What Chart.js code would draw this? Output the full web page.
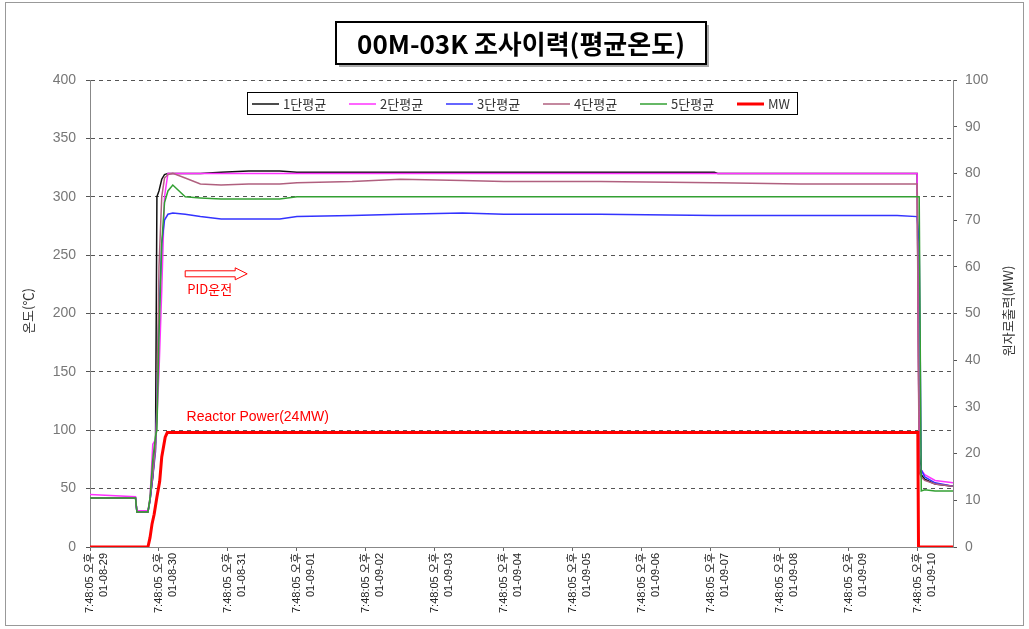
<!DOCTYPE html>
<html>
<head>
<meta charset="utf-8">
<script src="https://cdn.jsdelivr.net/npm/chart.js@4"></script>
<style>
  body { margin: 0; background: #fff; }
</style>
</head>
<body>
<canvas id="chart" width="1029" height="629"></canvas>
<script>
// x axis: days since 01-08-29 7:48:05 PM
const dayLabels = ['01-08-29', '01-08-30', '01-08-31', '01-09-01', '01-09-02', '01-09-03', '01-09-04',
                   '01-09-05', '01-09-06', '01-09-07', '01-09-08', '01-09-09', '01-09-10'];
const timeLabel = '7:48:05 오후';
const seriesNames = ['1단평균', '2단평균', '3단평균', '4단평균', '5단평균', 'MW'];

// temperature samples (days)
const tempTime = [0, 0.66, 0.68, 0.84, 0.87, 0.91, 0.95, 0.97, 1.0, 1.04, 1.08, 1.13, 1.2, 1.38, 1.6, 1.9,
                  2.3, 2.75, 3.0, 3.8, 4.5, 5.4, 6.0, 7.4, 9.05, 9.1, 10.3, 11.7, 11.99, 12.02, 12.05, 12.1, 12.25, 12.51];
const stage1 = [42, 42, 30, 30, 40, 60, 90, 300, 305, 315, 319, 320, 320, 320, 320, 321,
                322, 322, 321, 321, 321, 321, 321, 321, 321, 320, 320, 320, 320, 80, 62, 58, 54, 52];
const stage2 = [45, 43, 31, 31, 42, 88, 92, 110, 150, 220, 300, 320, 320, 320, 320, 320,
                320, 320, 320, 320, 320, 320, 320, 320, 320, 320, 320, 320, 320, 72, 66, 62, 57, 55];
const stage3 = [42, 42, 30, 30, 40, 60, 82, 125, 200, 260, 280, 285, 286, 285, 283, 281,
                281, 281, 283, 284, 285, 286, 285, 285, 284, 284, 284, 284, 283, 260, 66, 60, 55, 52];
const stage4 = [42, 42, 30, 30, 41, 62, 85, 120, 240, 300, 316, 319, 320, 316, 311, 310,
                311, 311, 312, 313, 315, 314, 313, 313, 312, 312, 311, 311, 311, 64, 60, 57, 54, 52];
const stage5 = [42, 42, 30, 30, 42, 75, 95, 100, 180, 260, 295, 305, 310, 300, 299, 298,
                298, 298, 300, 300, 300, 300, 300, 300, 300, 300, 300, 300, 300, 300, 48, 49, 48, 48];

// reactor power
const mwTime = [0, 0.84, 0.87, 0.9, 0.93, 0.97, 1.01, 1.04, 1.09, 1.12, 6.0, 12.0, 12.01, 12.51];
const mwValues = [0, 0, 2, 5, 7, 10.7, 14, 19.3, 23.5, 24.5, 24.5, 24.5, 0, 0];

const tempTicks = [0, 50, 100, 150, 200, 250, 300, 350, 400];
const mwTicks = [0, 10, 20, 30, 40, 50, 60, 70, 80, 90, 100];

const colors = ['#111111', '#ff33ff', '#3333ff', '#b0607f', '#33a033', '#ff0000'];
const FONT = "'Liberation Sans', 'Noto Sans CJK KR', sans-serif";
const KFONT = "'Noto Sans CJK KR', sans-serif";

function pts(xs, ys) {
    return xs.map((x, i) => ({ x: x, y: ys[i] }));
}

const tempSeries = [stage1, stage2, stage3, stage4, stage5];
const datasets = tempSeries.map((s, i) => ({
    label: seriesNames[i],
    data: pts(tempTime, s),
    borderColor: colors[i],
    borderWidth: 1.5,
    yAxisID: 'y',
    order: 6 - i
}));
datasets.push({
    label: seriesNames[5],
    data: pts(mwTime, mwValues),
    borderColor: colors[5],
    borderWidth: 3,
    yAxisID: 'y2',
    order: 0
});

// title box, legend, axis titles, notes
const extras = {
    id: 'extras',
    afterDraw(chart) {
        const c = chart.ctx;
        const xs = chart.scales.x, ys = chart.scales.y;
        c.save();

        // outer frame
        c.strokeStyle = '#999';
        c.lineWidth = 1;
        c.strokeRect(5.5, 2.5, 1018, 623);

        // title
        c.fillStyle = '#aaa';
        c.fillRect(339, 25, 370, 42);
        c.fillStyle = '#fff';
        c.fillRect(336, 22, 370, 42);
        c.strokeStyle = '#000';
        c.lineWidth = 2;
        c.strokeRect(336, 22, 370, 42);
        c.fillStyle = '#000';
        c.font = 'bold 26px ' + KFONT;
        c.textAlign = 'center';
        c.textBaseline = 'middle';
        c.fillText('00M-03K 조사이력(평균온도)', 521, 44);

        // legend
        c.fillStyle = '#fff';
        c.fillRect(247, 92, 550, 23);
        c.strokeStyle = '#000';
        c.lineWidth = 1;
        c.strokeRect(247.5, 92.5, 550, 22);
        c.font = '13px ' + KFONT;
        c.textAlign = 'left';
        let lx = 252;
        seriesNames.forEach((name, i) => {
            c.strokeStyle = colors[i];
            c.lineWidth = i === 5 ? 3 : 1.5;
            c.beginPath();
            c.moveTo(lx, 104);
            c.lineTo(lx + 27, 104);
            c.stroke();
            c.fillStyle = '#333';
            c.fillText(name, lx + 31, 104);
            lx += 97;
        });

        // axis titles
        c.fillStyle = '#333';
        c.font = '13px ' + KFONT;
        c.textAlign = 'center';
        c.save();
        c.translate(28, 311);
        c.rotate(-Math.PI / 2);
        c.fillText('온도(℃)', 0, 0);
        c.restore();
        c.save();
        c.translate(1008, 311);
        c.rotate(-Math.PI / 2);
        c.fillText('원자로출력(MW)', 0, 0);
        c.restore();

        // notes
        c.fillStyle = '#ff0000';
        c.strokeStyle = '#ff0000';
        c.textAlign = 'left';
        c.font = '14px ' + FONT;
        c.fillText('Reactor Power(24MW)', xs.getPixelForValue(1.4), ys.getPixelForValue(111));
        c.font = '13px ' + KFONT;
        c.fillText('PID운전', xs.getPixelForValue(1.41), ys.getPixelForValue(221));
        const ax = xs.getPixelForValue(1.38), ay = ys.getPixelForValue(234);
        c.lineWidth = 1;
        c.beginPath();
        c.moveTo(ax, ay - 3);
        c.lineTo(ax + 50, ay - 3);
        c.lineTo(ax + 50, ay - 6);
        c.lineTo(ax + 62, ay);
        c.lineTo(ax + 50, ay + 6);
        c.lineTo(ax + 50, ay + 3);
        c.lineTo(ax, ay + 3);
        c.closePath();
        c.stroke();

        c.restore();
    }
};

new Chart(document.getElementById('chart'), {
    type: 'line',
    data: { datasets: datasets },
    plugins: [extras],
    options: {
        responsive: false,
        animation: false,
        layout: { padding: { top: 80 } },
        elements: { point: { radius: 0 }, line: { tension: 0 } },
        plugins: { legend: { display: false }, tooltip: { enabled: false } },
        scales: {
            x: {
                type: 'linear',
                min: 0,
                max: 12.51,
                afterFit: (s) => { s.height = 82; },
                grid: { drawOnChartArea: false, tickLength: 4, color: '#666' },
                border: { color: '#888' },
                ticks: {
                    stepSize: 1,
                    includeBounds: false,
                    autoSkip: false,
                    maxRotation: 90,
                    minRotation: 90,
                    padding: 2,
                    color: '#222',
                    font: { size: 11, family: FONT, lineHeight: 1.25 },
                    callback: (v) => [timeLabel, dayLabels[Math.round(v)]]
                }
            },
            y: {
                position: 'left',
                min: 0,
                max: 400,
                afterFit: (s) => { s.width = 90; },
                afterBuildTicks: (s) => { s.ticks = tempTicks.map(v => ({ value: v })); },
                grid: { color: '#555', tickLength: 4 },
                border: { color: '#888', dash: [4, 4] },
                ticks: { color: '#777', padding: 10, font: { size: 14, family: FONT } }
            },
            y2: {
                position: 'right',
                min: 0,
                max: 100,
                afterFit: (s) => { s.width = 76; },
                afterBuildTicks: (s) => { s.ticks = mwTicks.map(v => ({ value: v })); },
                grid: { drawOnChartArea: false, color: '#555', tickLength: 4 },
                border: { color: '#888' },
                ticks: { color: '#777', padding: 8, font: { size: 14, family: FONT } }
            }
        }
    }
});
</script>
</body>
</html>
